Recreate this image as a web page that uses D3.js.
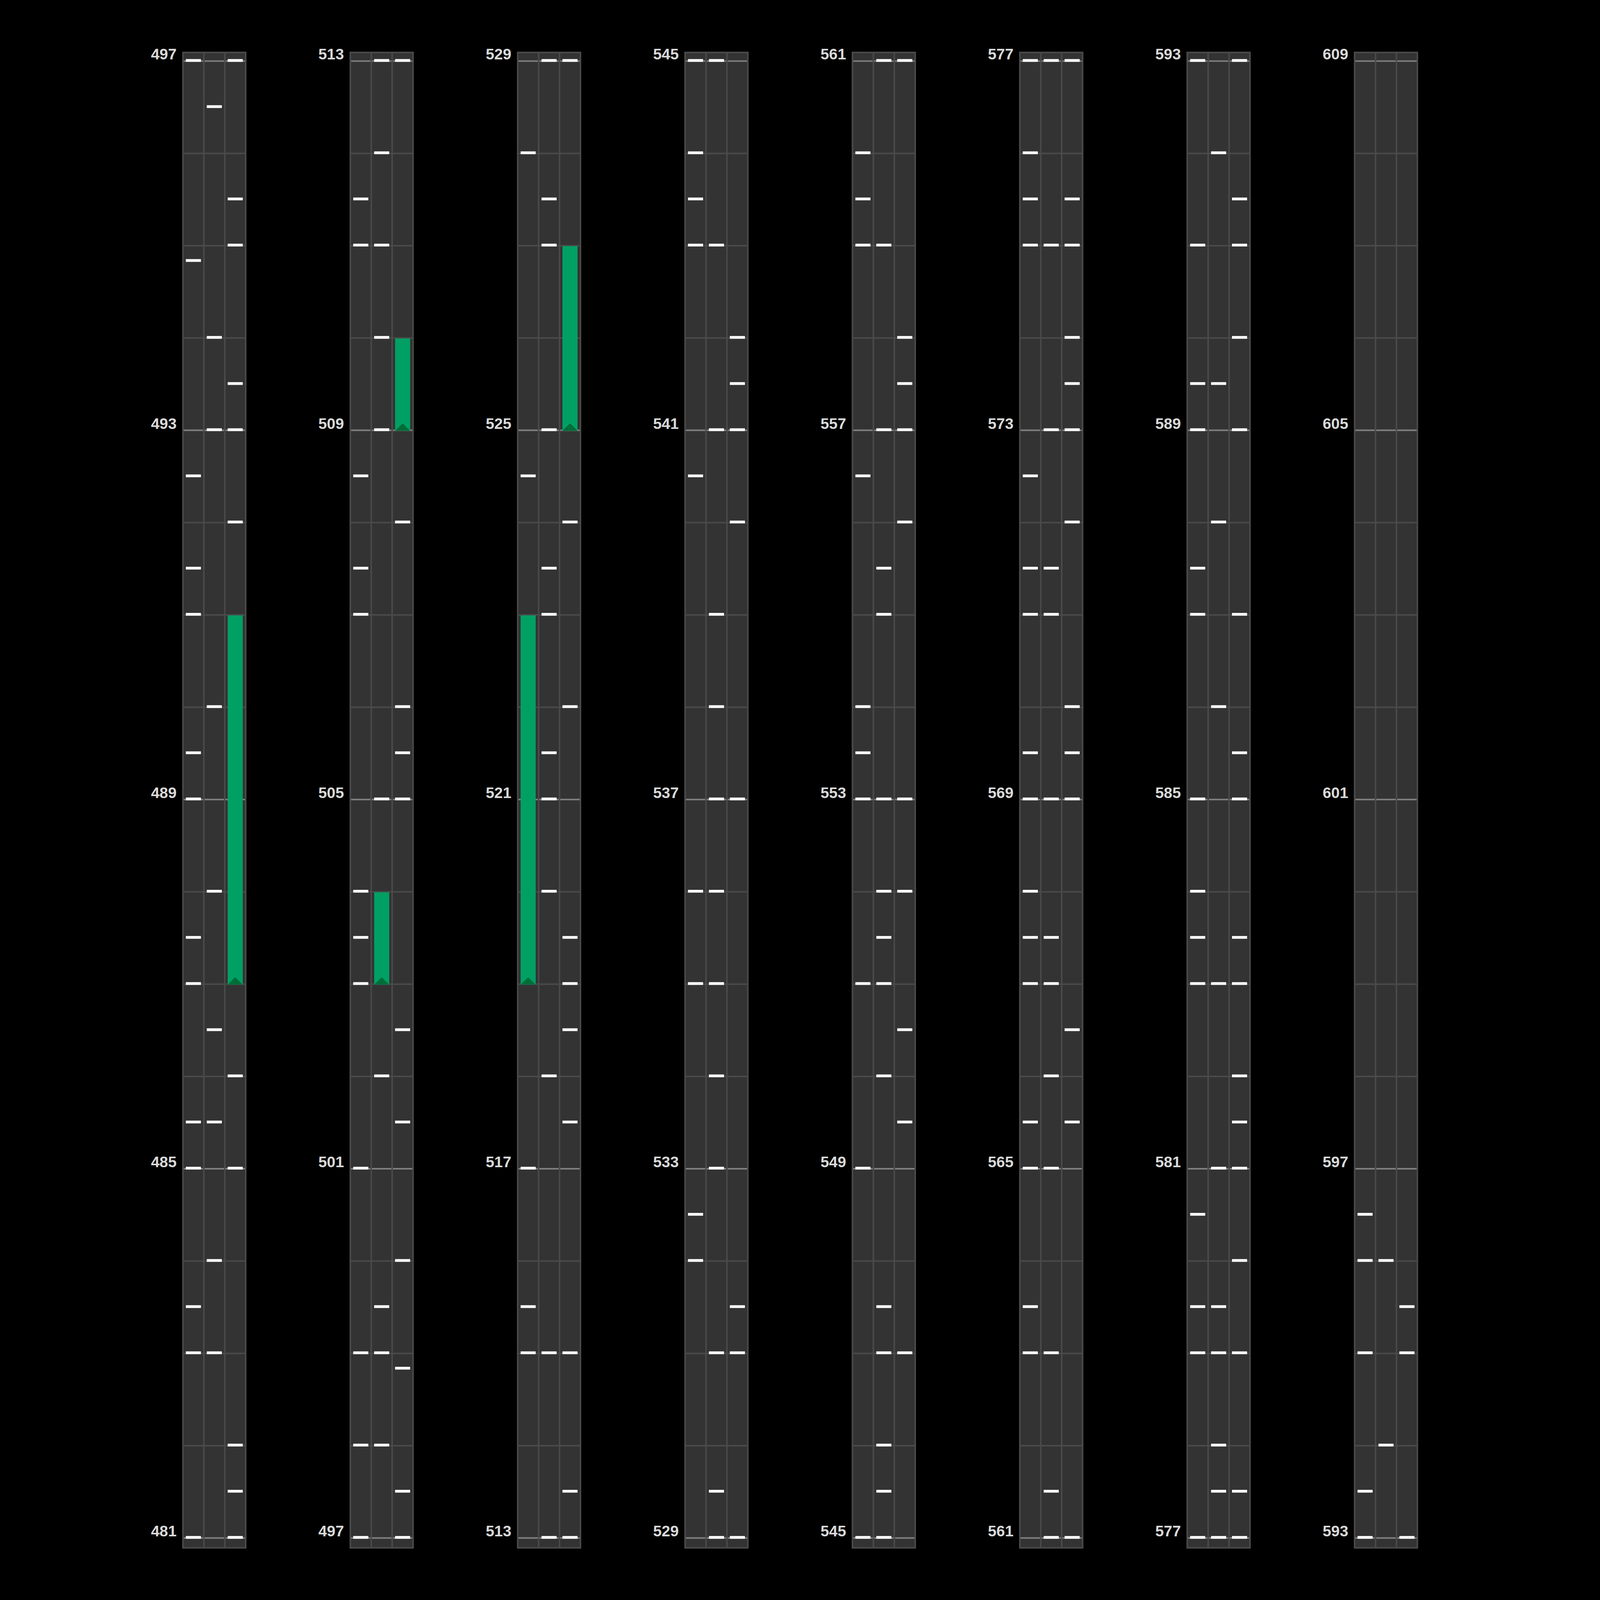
<!DOCTYPE html>
<html>
<head>
<meta charset="utf-8">
<script src="https://cdn.jsdelivr.net/npm/d3@7"></script>
<style>
  html, body { margin: 0; padding: 0; background: #000; overflow: hidden; }
  svg { display: block; width: 100vw; height: 100vh; }
</style>
</head>
<body>
<script>
// lanes and strips
const lanes = ["left", "middle", "right"];
const stripBottoms = [481, 497, 513, 529, 545, 561, 577, 593];
const beatsPerStrip = 16;
const labelStep = 4;

// tap notes per lane (beat positions)
const tapsLeft = [
  481, 483, 483.5, 485, 485.5, 487, 487.5, 489, 489.5, 491, 491.5, 492.5, 494.833, 497,
  498, 499, 501, 503, 503.5, 504, 507, 507.5, 508.5, 511, 511.5,
  515, 515.5, 517, 524.5, 528,
  532, 532.5, 535, 536, 540.5, 543, 543.5, 544, 545,
  549, 551, 553, 553.5, 554, 556.5, 559, 559.5, 560,
  563, 563.5, 565, 565.5, 567, 567.5, 568, 569, 569.5, 571, 571.5, 572.5, 575, 575.5, 576, 577,
  579, 579.5, 580.5, 583, 583.5, 584, 585, 587, 587.5, 589, 589.5, 591, 593,
  593.5, 595, 596, 596.5
];
const tapsMiddle = [
  483, 484, 485.5, 486.5, 488, 490, 493, 494, 496.5,
  498, 499, 499.5, 502, 505, 509, 510, 511, 512, 513,
  515, 518, 520, 521, 521.5, 523, 523.5, 525, 527, 527.5, 529,
  529.5, 531, 533, 534, 535, 536, 537, 538, 539, 541, 543, 545,
  545.5, 546, 547, 547.5, 550, 551, 551.5, 552, 553, 555, 555.5, 557, 559, 561,
  561.5, 563, 565, 566, 567, 567.5, 569, 571, 571.5, 573, 575, 577,
  577.5, 578, 579, 579.5, 581, 583, 586, 588, 589.5, 592,
  594, 596
];
const tapsRight = [
  481, 481.5, 482, 485, 486, 492, 493, 493.5, 495, 495.5, 497,
  497.5, 498.833, 500, 501.5, 502.5, 505, 505.5, 506, 508, 513,
  513.5, 515, 517.5, 518.5, 519, 519.5, 522, 524, 529,
  531, 531.5, 537, 540, 541, 541.5, 542,
  547, 549.5, 550.5, 552, 553, 556, 557, 557.5, 558, 561,
  565.5, 566.5, 569, 569.5, 570, 572, 573, 573.5, 574, 575, 575.5, 577,
  577.5, 579, 580, 581, 581.5, 582, 583, 583.5, 585, 585.5, 587, 589, 590, 591, 591.5, 593,
  595, 595.5
];

// hold notes
const holdLanes  = ["right", "middle", "right", "left", "right"];
const holdStarts = [487, 503, 509, 519, 525];
const holdEnds   = [491, 504, 510, 523, 527];

// ---- geometry ----
const W = 4352, H = 5200;
const stripW = 204;          // frame width (stroke centres)
const topPad = 28, bottomPad = 32;

const taps = [
  ...tapsLeft.map(v => ({lane: "left", v})),
  ...tapsMiddle.map(v => ({lane: "middle", v})),
  ...tapsRight.map(v => ({lane: "right", v}))
];
const holds = holdLanes.map((lane, i) => ({lane, start: holdStarts[i], end: holdEnds[i]}));

const svg = d3.select("body").append("svg")
  .attr("viewBox", [0, 0, W, H])
  .attr("preserveAspectRatio", "xMidYMid meet");

svg.append("rect").attr("width", W).attr("height", H).attr("fill", "#000");

// strip positions
const stripX = d3.scaleLinear()
  .domain([0, stripBottoms.length - 1])
  .range([170.5, 170.5 + 544 * (stripBottoms.length - 1)]);

// lane positions inside a strip
const xLane = d3.scaleBand().domain(lanes).range([0, stripW]).padding(0);
const laneMid = d => xLane(d) + xLane.bandwidth() / 2;
const markW = 49;

stripBottoms.forEach((bottom, i) => {
  const top = bottom + beatsPerStrip;
  const y = d3.scaleLinear().domain([bottom, top]).range([4998.5, 198.5]);
  const g = svg.append("g").attr("transform", `translate(${stripX(i)},0)`);

  const fy0 = y(top) - topPad, fy1 = y(bottom) + bottomPad;

  // background
  g.append("rect")
    .attr("x", 0).attr("y", fy0)
    .attr("width", stripW).attr("height", fy1 - fy0)
    .attr("fill", "#333333");

  // beat gridlines
  g.selectAll(".grid")
    .data(d3.range(bottom, top + 1))
    .join("line")
    .attr("x1", 0).attr("x2", stripW)
    .attr("y1", d => y(d)).attr("y2", d => y(d))
    .attr("stroke", d => (d - bottom) % labelStep === 0 ? "#808080" : "#4a4a4a")
    .attr("stroke-width", 5);

  // lane separators
  g.selectAll(".sep")
    .data(lanes.slice(1))
    .join("line")
    .attr("x1", d => xLane(d)).attr("x2", d => xLane(d))
    .attr("y1", fy0).attr("y2", fy1)
    .attr("stroke", "#4a4a4a")
    .attr("stroke-width", 5);

  // frame
  g.append("rect")
    .attr("x", 0).attr("y", fy0)
    .attr("width", stripW).attr("height", fy1 - fy0)
    .attr("fill", "none")
    .attr("stroke", "#4a4a4a")
    .attr("stroke-width", 5);

  // labels every 4 beats
  const axis = d3.axisLeft(y)
    .tickValues(d3.range(bottom, top + 1, labelStep))
    .tickFormat(d3.format("d"))
    .tickSize(0)
    .tickPadding(20.5);
  const ag = g.append("g").call(axis);
  ag.select(".domain").remove();
  ag.selectAll("text")
    .attr("dy", "-0.11em")
    .attr("fill", "#d9d9d9")
    .attr("font-family", "'Liberation Sans', Arial, sans-serif")
    .attr("font-weight", "bold")
    .attr("font-size", 50);

  // holds
  const hs = holds.filter(h => h.end >= bottom && h.start <= top);
  g.selectAll(".hold")
    .data(hs)
    .join("rect")
    .attr("x", d => laneMid(d.lane) - markW / 2)
    .attr("width", markW)
    .attr("y", d => y(d.end) + 1.5)
    .attr("height", d => y(d.start) - y(d.end))
    .attr("fill", "#00a064");
  g.selectAll(".holdhead")
    .data(hs)
    .join("path")
    .attr("d", d => {
      const cx = laneMid(d.lane), yb = y(d.start) + 1.5;
      return `M${cx - markW / 2},${yb}L${cx + markW / 2},${yb}L${cx},${yb - 24}Z`;
    })
    .attr("fill", "#006d38");

  // taps
  g.selectAll(".tap")
    .data(taps.filter(t => t.v >= bottom - 1e-6 && t.v <= top + 1e-6))
    .join("rect")
    .attr("x", d => laneMid(d.lane) - markW / 2)
    .attr("width", markW)
    .attr("y", d => y(d.v) - 6.5)
    .attr("height", 9)
    .attr("fill", "#ffffff");
});
</script>
</body>
</html>
